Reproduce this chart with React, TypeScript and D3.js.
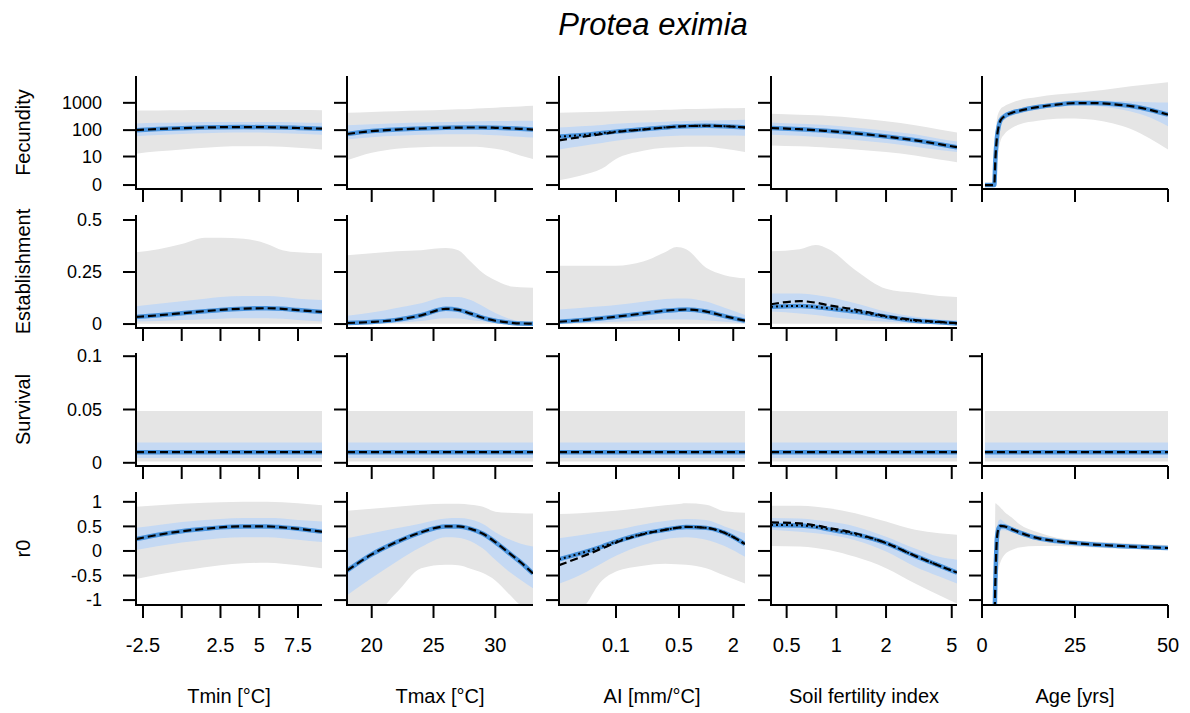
import React from 'react';
import * as d3 from 'd3';

const W = 1190;
const H = 713;
const colLeft = [136, 347, 559, 771, 982];
const rowTop = [76, 215, 353, 492];
const pw = 186;
const ph = 113;

const GRAY = '#e5e5e5';
const BLUE_BAND = '#c5d9f3';
const BLUE_LINE = '#4a94dd';
const FONT = "'Liberation Sans', Arial, sans-serif";

// x grids per predictor
const tminX = [-2.95, -1.5, 0, 1.5, 2.5, 4, 5.5, 6.5, 7.5, 9.05];
const tmaxX = [18, 20, 22, 24, 26, 27, 28, 29, 30, 31, 32, 33.05];
const aiX = [0.0233, 0.04, 0.07, 0.1, 0.2, 0.35, 0.47, 0.6, 1, 1.6, 2.7];
const soilX = [0.402, 0.6, 0.75, 0.9, 1.3, 2, 3, 4.2, 5.38];
const ageX = [0.8, 3.3, 3.6, 4, 4.5, 5, 6, 8, 10, 15, 20, 25, 30, 35, 40, 45, 50];

// Fecundity
const fecTmin = {
  mean: [100, 110, 118, 125, 128, 130, 128, 125, 120, 113],
  bLo: [60, 66, 72, 77, 80, 82, 80, 77, 73, 68],
  bHi: [175, 185, 192, 198, 200, 200, 200, 198, 192, 185],
  gLo: [13, 16, 19, 22, 24, 25, 25, 24, 22, 19],
  gHi: [520, 530, 540, 545, 550, 550, 550, 550, 545, 540],
};
const fecTmax = {
  mean: [72, 92, 105, 115, 122, 124, 125, 125, 122, 118, 112, 105],
  bLo: [45, 55, 62, 67, 70, 70, 70, 68, 65, 61, 57, 53],
  bHi: [150, 165, 178, 190, 200, 205, 208, 212, 215, 218, 220, 220],
  gLo: [7, 14, 20, 23, 24, 24, 24, 23, 20, 16, 11, 8],
  gHi: [430, 460, 490, 520, 560, 580, 600, 630, 660, 700, 740, 780],
};
const fecAI = {
  mean: [42, 55, 72, 85, 105, 125, 135, 140, 145, 140, 125],
  alt: [58, 65, 78, 88, 107, 125, 135, 140, 145, 140, 125],
  bLo: [19, 25, 33, 40, 52, 60, 62, 63, 63, 63, 62],
  bHi: [125, 140, 155, 170, 190, 205, 210, 215, 225, 232, 240],
  gLo: [0.5, 1.2, 3, 8, 17, 22, 23, 24, 24, 20, 15],
  gHi: [430, 450, 470, 490, 520, 560, 575, 590, 610, 630, 650],
};
const fecSoil = {
  mean: [120, 108, 100, 92, 76, 58, 42, 30, 23],
  bLo: [68, 62, 57, 52, 43, 33, 24, 18, 15],
  bHi: [190, 170, 160, 150, 125, 95, 70, 48, 38],
  gLo: [27, 25, 23.5, 22, 19, 15, 11, 7.5, 5.8],
  gHi: [400, 370, 350, 330, 280, 210, 150, 105, 82],
};
const fecAge = {
  mean: [0, 0, 8, 50, 140, 230, 320, 430, 510, 700, 860, 980, 980, 900, 760, 560, 370],
  bLo: [0, 0, 4, 30, 90, 160, 240, 340, 410, 570, 700, 780, 760, 650, 480, 300, 140],
  bHi: [0, 0, 15, 80, 200, 310, 420, 530, 620, 830, 1000, 1150, 1200, 1180, 1120, 1060, 1020],
  gLo: [0, 0, 0.5, 5, 20, 40, 70, 120, 160, 220, 260, 270, 240, 180, 110, 50, 19],
  gHi: [0, 0, 40, 250, 450, 600, 750, 1000, 1250, 1650, 2000, 2300, 2700, 3300, 4000, 4800, 5700],
};

// Establishment
const estTmin = {
  mean: [0.034, 0.042, 0.052, 0.062, 0.068, 0.074, 0.076, 0.073, 0.067, 0.058],
  bLo: [0.012, 0.015, 0.019, 0.023, 0.026, 0.028, 0.028, 0.025, 0.02, 0.012],
  bHi: [0.085, 0.097, 0.11, 0.122, 0.13, 0.135, 0.135, 0.13, 0.122, 0.115],
  gLo: [0.002, 0.002, 0.002, 0.002, 0.002, 0.002, 0.002, 0.002, 0.002, 0.002],
  gHi: [0.345, 0.36, 0.385, 0.415, 0.415, 0.41, 0.385, 0.355, 0.345, 0.34],
};
const estTmax = {
  mean: [0.005, 0.01, 0.02, 0.042, 0.073, 0.068, 0.05, 0.03, 0.016, 0.008, 0.003, 0.002],
  bLo: [0, 0.002, 0.006, 0.015, 0.028, 0.027, 0.02, 0.012, 0.006, 0.002, 0, 0],
  bHi: [0.04, 0.055, 0.077, 0.1, 0.13, 0.13, 0.115, 0.085, 0.053, 0.028, 0.012, 0.006],
  gLo: [0.002, 0.002, 0.002, 0.002, 0.002, 0.002, 0.002, 0.002, 0.002, 0.002, 0.002, 0.002],
  gHi: [0.33, 0.34, 0.35, 0.355, 0.365, 0.355, 0.3, 0.245, 0.21, 0.185, 0.177, 0.175],
};
const estAI = {
  mean: [0.011, 0.018, 0.028, 0.035, 0.051, 0.064, 0.068, 0.07, 0.06, 0.038, 0.016],
  bLo: [0.003, 0.005, 0.008, 0.011, 0.017, 0.022, 0.022, 0.022, 0.018, 0.011, 0.003],
  bHi: [0.07, 0.077, 0.085, 0.091, 0.107, 0.12, 0.123, 0.123, 0.108, 0.078, 0.043],
  gLo: [0.002, 0.002, 0.002, 0.002, 0.002, 0.002, 0.002, 0.002, 0.002, 0.002, 0.002],
  gHi: [0.28, 0.28, 0.28, 0.28, 0.3, 0.345, 0.37, 0.36, 0.27, 0.235, 0.22],
};
const estSoil = {
  mean: [0.095, 0.11, 0.103, 0.09, 0.07, 0.038, 0.019, 0.01, 0.004],
  alt: [0.083, 0.087, 0.082, 0.075, 0.06, 0.035, 0.016, 0.009, 0.003],
  bLo: [0.06, 0.051, 0.043, 0.035, 0.022, 0.011, 0.004, 0.002, 0.001],
  bHi: [0.147, 0.147, 0.14, 0.13, 0.1, 0.06, 0.035, 0.022, 0.019],
  gLo: [0.002, 0.002, 0.002, 0.002, 0.002, 0.002, 0.002, 0.002, 0.002],
  gHi: [0.35, 0.36, 0.38, 0.36, 0.26, 0.17, 0.15, 0.135, 0.13],
};

// Survival (flat across every predictor)
const survMean = [0.01, 0.01];
const survBLo = [0.0045, 0.0045];
const survBHi = [0.019, 0.019];
const survGLo = [0.0013, 0.0013];
const survGHi = [0.0487, 0.0487];

// r0
const r0Tmin = {
  mean: [0.24, 0.33, 0.4, 0.45, 0.48, 0.5, 0.5, 0.48, 0.45, 0.39],
  bLo: [0.02, 0.1, 0.17, 0.23, 0.26, 0.28, 0.28, 0.26, 0.23, 0.18],
  bHi: [0.47, 0.53, 0.59, 0.63, 0.65, 0.67, 0.67, 0.66, 0.63, 0.6],
  gLo: [-0.57, -0.48, -0.4, -0.33, -0.29, -0.25, -0.24, -0.26, -0.29, -0.35],
  gHi: [0.9, 0.93, 0.96, 0.98, 0.99, 1.0, 1.0, 0.99, 0.97, 0.93],
};
const r0Tmax = {
  mean: [-0.4, -0.07, 0.18, 0.38, 0.5, 0.5, 0.45, 0.35, 0.18, -0.02, -0.22, -0.46],
  bLo: [-0.9, -0.55, -0.22, 0.08, 0.28, 0.27, 0.2, 0.05, -0.18, -0.4, -0.58, -0.76],
  bHi: [0.26, 0.36, 0.46, 0.56, 0.66, 0.67, 0.64, 0.55, 0.38, 0.25, 0.15, 0.09],
  gLo: [-1.3, -1.3, -0.85, -0.35, -0.28, -0.29, -0.36, -0.45, -0.6, -0.85, -1.1, -1.3],
  gHi: [0.82, 0.86, 0.9, 0.94, 0.96, 0.96, 0.94, 0.9, 0.8, 0.78, 0.77, 0.76],
};
const r0AI = {
  mean: [-0.29, -0.13, 0.05, 0.17, 0.34, 0.43, 0.47, 0.49, 0.47, 0.37, 0.14],
  alt: [-0.17, -0.05, 0.09, 0.19, 0.35, 0.43, 0.47, 0.49, 0.47, 0.37, 0.14],
  bLo: [-0.67, -0.49, -0.25, -0.1, 0.12, 0.24, 0.27, 0.28, 0.23, 0.1, -0.12],
  bHi: [0.26, 0.32, 0.39, 0.43, 0.54, 0.61, 0.64, 0.65, 0.63, 0.5, 0.36],
  gLo: [-1.3, -1.2, -0.6, -0.42, -0.3, -0.26, -0.27, -0.28, -0.35, -0.5, -0.66],
  gHi: [0.75, 0.77, 0.8, 0.82, 0.88, 0.93, 0.95, 0.97, 0.94, 0.81, 0.78],
};
const r0Soil = {
  mean: [0.58, 0.56, 0.52, 0.47, 0.36, 0.16, -0.1, -0.3, -0.44],
  alt: [0.53, 0.52, 0.49, 0.44, 0.34, 0.16, -0.1, -0.3, -0.44],
  bLo: [0.43, 0.39, 0.36, 0.33, 0.22, -0.01, -0.32, -0.52, -0.66],
  bHi: [0.67, 0.66, 0.63, 0.6, 0.5, 0.29, 0.05, -0.12, -0.18],
  gLo: [0.1, 0.09, 0.06, 0.02, -0.12, -0.35, -0.66, -0.9, -1.07],
  gHi: [0.92, 0.92, 0.9, 0.87, 0.77, 0.6, 0.43, 0.36, 0.33],
};
const r0Age = {
  mean: [-1.5, -1.5, -0.6, 0.25, 0.47, 0.51, 0.5, 0.44, 0.38, 0.26, 0.2, 0.16, 0.13, 0.11, 0.09, 0.075, 0.06],
  bLo: [-1.5, -1.5, -1.0, 0.05, 0.35, 0.42, 0.42, 0.38, 0.33, 0.23, 0.17, 0.14, 0.11, 0.09, 0.075, 0.06, 0.045],
  bHi: [-1.5, -1.2, -0.3, 0.45, 0.62, 0.64, 0.58, 0.5, 0.42, 0.3, 0.23, 0.19, 0.15, 0.13, 0.11, 0.09, 0.08],
  gLo: [-1.5, -1.5, -1.5, -0.6, -0.35, -0.22, -0.08, 0.02, 0.07, 0.1, 0.1, 0.09, 0.07, 0.05, 0.04, 0.03, 0.02],
  gHi: [-1.5, -1.5, 0.97, 0.95, 0.92, 0.88, 0.8, 0.68, 0.55, 0.38, 0.27, 0.22, 0.19, 0.17, 0.15, 0.13, 0.12],
};

const cols = [
  { title: 'Tmin [°C]', xs: tminX, scale: d3.scaleLinear().domain([-2.95, 9.05]), ticks: [-2.5, 0, 2.5, 5, 7.5], labels: ['-2.5', '', '2.5', '5', '7.5'] },
  { title: 'Tmax [°C]', xs: tmaxX, scale: d3.scaleLinear().domain([18, 33.05]), ticks: [20, 25, 30], labels: ['20', '25', '30'] },
  { title: 'AI [mm/°C]', xs: aiX, scale: d3.scaleLog().domain([0.0233, 2.7]), ticks: [0.1, 0.5, 2], labels: ['0.1', '0.5', '2'] },
  { title: 'Soil fertility index', xs: soilX, scale: d3.scaleLog().domain([0.402, 5.38]), ticks: [0.5, 1, 2, 5], labels: ['0.5', '1', '2', '5'] },
  { title: 'Age [yrs]', xs: ageX, scale: d3.scaleLinear().domain([0, 50]), ticks: [0, 25, 50], labels: ['0', '25', '50'] },
];
cols.forEach((c, i) => c.scale.range([colLeft[i], colLeft[i] + pw]));

const rows = [
  { title: 'Fecundity', scale: d3.scaleSymlog().constant(1).domain([-0.395, 9550]), ticks: [0, 10, 100, 1000], labels: ['0', '10', '100', '1000'] },
  { title: 'Establishment', scale: d3.scaleLinear().domain([-0.019, 0.524]), ticks: [0, 0.25, 0.5], labels: ['0', '0.25', '0.5'] },
  { title: 'Survival', scale: d3.scaleLinear().domain([-0.003, 0.103]), ticks: [0, 0.05, 0.1], labels: ['0', '0.05', '0.1'] },
  { title: 'r0', scale: d3.scaleLinear().domain([-1.1, 1.2]), ticks: [-1, -0.5, 0, 0.5, 1], labels: ['-1', '-0.5', '0', '0.5', '1'] },
];
rows.forEach((r, i) => r.scale.range([rowTop[i] + ph, rowTop[i]]));

const surv = { mean: survMean, bLo: survBLo, bHi: survBHi, gLo: survGLo, gHi: survGHi };

const panels = [
  [fecTmin, fecTmax, fecAI, fecSoil, fecAge],
  [estTmin, estTmax, estAI, estSoil, null],
  [surv, surv, surv, surv, surv],
  [r0Tmin, r0Tmax, r0AI, r0Soil, r0Age],
];

const Panel = ({ ri, ci, d }) => {
  const col = cols[ci];
  const row = rows[ri];
  const xs = d === surv ? [col.xs[0], col.xs[col.xs.length - 1]] : col.xs;
  const x = col.scale;
  const y = row.scale;
  const left = colLeft[ci];
  const top = rowTop[ri];
  const bottom = top + ph;
  const idx = xs.map((_, i) => i);
  const area = (lo, hi) => d3.area().x(i => x(xs[i])).y0(i => y(lo[i])).y1(i => y(hi[i])).curve(d3.curveMonotoneX)(idx);
  const line = (v) => d3.line().x(i => x(xs[i])).y(i => y(v[i])).curve(d3.curveMonotoneX)(idx);
  const alt = d.alt || d.mean;
  const clipId = `clip-${ri}-${ci}`;
  const showYLabels = ci === 0;
  const showXLabels = ri === rows.length - 1;
  return (
    <g>
      <clipPath id={clipId}>
        <rect x={left} y={top} width={pw} height={ph} />
      </clipPath>
      <g clipPath={`url(#${clipId})`}>
        <path d={area(d.gLo, d.gHi)} fill={GRAY} />
        <path d={area(d.bLo, d.bHi)} fill={BLUE_BAND} />
        <path d={line(alt)} fill="none" stroke={BLUE_LINE} strokeWidth={4.5} />
        {d.alt && <path d={line(d.alt)} fill="none" stroke="#000" strokeWidth={2} strokeDasharray="2,3" />}
        <path d={line(d.mean)} fill="none" stroke="#000" strokeWidth={2.2} strokeDasharray="8,4" />
      </g>
      {/* axes, L-shaped */}
      <line x1={left} x2={left} y1={top} y2={bottom} stroke="#000" strokeWidth={2} />
      <line x1={left - 1} x2={left + pw} y1={bottom} y2={bottom} stroke="#000" strokeWidth={2} />
      {row.ticks.map((t, i) => (
        <g key={'y' + i}>
          <line x1={left - 13} x2={left} y1={y(t)} y2={y(t)} stroke="#000" strokeWidth={2} />
          {showYLabels && (
            <text x={left - 34} y={y(t)} dy="0.35em" textAnchor="end" fontSize={18} fontFamily={FONT}>{row.labels[i]}</text>
          )}
        </g>
      ))}
      {col.ticks.map((t, i) => (
        <g key={'x' + i}>
          <line x1={x(t)} x2={x(t)} y1={bottom} y2={bottom + 13} stroke="#000" strokeWidth={2} />
          {showXLabels && (
            <text x={x(t)} y={652} textAnchor="middle" fontSize={20} fontFamily={FONT}>{col.labels[i]}</text>
          )}
        </g>
      ))}
    </g>
  );
};

export default function App() {
  return (
    <svg width={W} height={H} style={{ position: 'absolute', left: 0, top: 0, background: '#fff' }}>
      <text x={653} y={35} textAnchor="middle" fontSize={31} fontStyle="italic" fontFamily={FONT}>Protea eximia</text>
      {panels.map((r, ri) => r.map((d, ci) => d ? <Panel key={`${ri}-${ci}`} ri={ri} ci={ci} d={d} /> : null))}
      {rows.map((r, ri) => (
        <text key={r.title} transform={`translate(23,${rowTop[ri] + ph / 2}) rotate(-90)`} dy="0.35em" textAnchor="middle" fontSize={20} fontFamily={FONT}>{r.title}</text>
      ))}
      {cols.map((c, ci) => (
        <text key={c.title} x={colLeft[ci] + pw / 2} y={703} textAnchor="middle" fontSize={20} fontFamily={FONT}>{c.title}</text>
      ))}
    </svg>
  );
}
